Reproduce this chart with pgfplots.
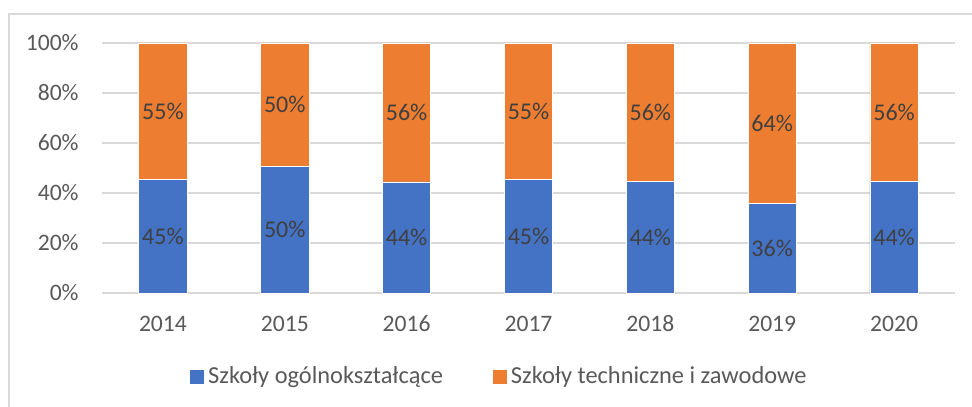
\documentclass[border=0pt]{standalone}
\usepackage{pgfplots}
\pgfplotsset{compat=1.18}
\usepackage{fontspec}
\setmainfont{Carlito}
\definecolor{cblue}{HTML}{4472C4}
\definecolor{corange}{HTML}{ED7D31}
\definecolor{cgrid}{HTML}{D9D9D9}
\definecolor{ctick}{HTML}{595959}
\definecolor{clabel}{HTML}{404040}
\begin{document}
\begin{tikzpicture}
\useasboundingbox (-51pt,-56.5pt) rectangle (435pt,146.5pt);
\draw[cgrid, line width=0.75pt] (-46.5pt,-60pt) -- (-46.5pt,139.5pt) -- (440pt,139.5pt);
\begin{axis}[
  at={(0,0)}, anchor=south west,
  scale only axis, width=426.5pt, height=125pt,
  xmin=-0.5, xmax=6.5, ymin=0, ymax=100,
  axis line style={draw=none},
  major tick length=0pt,
  xtick={0,1,2,3,4,5,6},
  xticklabels={2014,2015,2016,2017,2018,2019,2020},
  ytick={0,20,40,60,80,100},
  yticklabels={0\%,20\%,40\%,60\%,80\%,100\%},
  ymajorgrids, grid style={cgrid, line width=0.75pt},
  tick label style={font=\fontsize{11.8}{13}\selectfont, text=ctick},
  yticklabel style={anchor=base east, inner sep=0pt, xshift=-11.5pt, yshift=-3.7pt},
  xticklabel style={anchor=base, inner sep=0pt, yshift=-19.5pt},
  clip=false,
  legend columns=-1,
  legend cell align=left,
  legend image code/.code={\fill[#1] (0pt,-3.5pt) rectangle (7pt,3.5pt);},
  legend style={at={(0.467,-0.336)}, anchor=center, draw=none, fill=none,
    font=\fontsize{12.2}{14}\selectfont, text=ctick, inner sep=0pt,
    /tikz/every even column/.append style={column sep=23pt}},
]
\addlegendimage{fill=cblue, draw=none}
\addlegendentry{Szkoły ogólnokształcące}
\addlegendimage{fill=corange, draw=none}
\addlegendentry{Szkoły techniczne i zawodowe}

\addplot[ybar, bar shift=0pt, bar width=24.15pt, fill=corange, draw=white, line width=0.4pt, forget plot]
  coordinates {(0,100) (1,100) (2,100) (3,100) (4,100) (5,100) (6,100)};
\addplot[ybar, bar shift=0pt, bar width=24.15pt, fill=cblue, draw=white, line width=0.4pt, forget plot]
  coordinates {(0,45.3) (1,50.5) (2,44.4) (3,45.3) (4,44.5) (5,35.7) (6,44.5)};

\addplot[draw=none, mark=none, forget plot, nodes near coords, point meta=explicit symbolic,
  every node near coord/.append style={anchor=center, font=\fontsize{12}{14}\selectfont, text=clabel, inner sep=0pt}]
  coordinates {(0,22.65)[45\%] (1,25.25)[50\%] (2,22.2)[44\%] (3,22.65)[45\%] (4,22.25)[44\%] (5,17.85)[36\%] (6,22.25)[44\%]};
\addplot[draw=none, mark=none, forget plot, nodes near coords, point meta=explicit symbolic,
  every node near coord/.append style={anchor=center, font=\fontsize{12}{14}\selectfont, text=clabel, inner sep=0pt}]
  coordinates {(0,72.65)[55\%] (1,75.25)[50\%] (2,72.2)[56\%] (3,72.65)[55\%] (4,72.25)[56\%] (5,67.85)[64\%] (6,72.25)[56\%]};
\end{axis}
\end{tikzpicture}
\end{document}
